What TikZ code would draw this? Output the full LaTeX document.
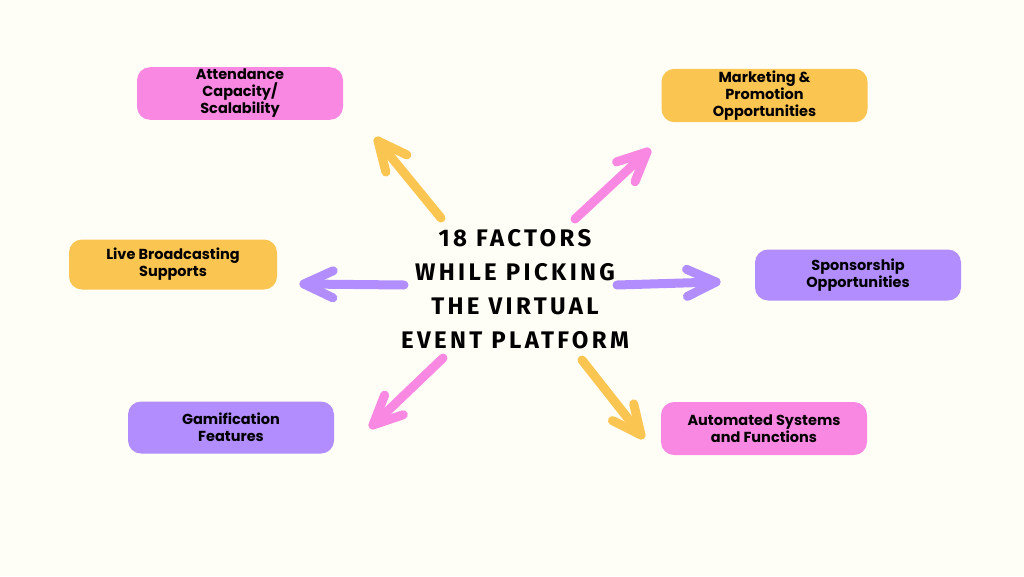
\documentclass[tikz,border=0pt]{standalone}
\usepackage{fontspec}
\setmainfont{Poppins}
\newfontfamily\titlefont[LetterSpace=14]{Fira Sans}
\newfontfamily\boxfont{Poppins}
\usetikzlibrary{calc}
\definecolor{bg}{HTML}{FFFEF6}
\definecolor{fpink}{HTML}{F888E2}
\definecolor{fyellow}{HTML}{FBC552}
\definecolor{fpurple}{HTML}{B28DFE}
\tikzset{
  factor/.style={rounded corners=13pt, minimum width=206pt, minimum height=52pt, inner sep=2pt,
    align=center, font=\boxfont\bfseries\fontsize{14.5}{17}\selectfont, text=black},
  shaft/.style={line width=9pt, line cap=round, line join=round},
}
\newcommand{\factorarrow}[3]{%
  \draw[shaft,#3] (#1) -- (#2);
  \draw[shaft,#3] ($(#2)!32pt!25:(#1)$) -- (#2) -- ($(#2)!32pt!-25:(#1)$);
}
\begin{document}
\begin{tikzpicture}[x=1pt,y=-1pt]
\fill[bg] (0,0) rectangle (1024,576);
\useasboundingbox (0,0) rectangle (1024,576);

\node[factor,fill=fpink] (att) at (240,93.5) {Attendance\\Capacity/\\Scalability};
\node[factor,fill=fyellow,minimum height=51pt] (mkt) at (764.5,95.5) {Marketing \&\\Promotion\\Opportunities};
\node[factor,fill=fyellow,minimum height=50pt,minimum width=208pt] (live) at (173,264.5) {Live Broadcasting\\Supports};
\node[factor,fill=fpurple,minimum height=51pt] (spon) at (858,275) {Sponsorship\\Opportunities};
\node[factor,fill=fpurple,minimum height=52pt] (gam) at (231,427.5) {Gamification\\Features};
\node[factor,fill=fpink,minimum height=53pt] (auto) at (764,428.5) {Automated Systems\\and Functions};

\node[align=center, font=\titlefont\bfseries\fontsize{24}{34}\selectfont, text=black] (title) at (515,289)
  {18 FACTORS\\WHILE PICKING\\THE VIRTUAL\\EVENT PLATFORM};

\coordinate (t1) at (441,218); \coordinate (h1) at (378,141);
\coordinate (t2) at (404,285); \coordinate (h2) at (304,284);
\coordinate (t3) at (443,358); \coordinate (h3) at (373,425);
\coordinate (t4) at (575,219); \coordinate (h4) at (647,152);
\coordinate (t5) at (617,285); \coordinate (h5) at (716,282);
\coordinate (t6) at (582,360); \coordinate (h6) at (641,435);

\factorarrow{t1}{h1}{fyellow}
\factorarrow{t2}{h2}{fpurple}
\factorarrow{t3}{h3}{fpink}
\factorarrow{t4}{h4}{fpink}
\factorarrow{t5}{h5}{fpurple}
\factorarrow{t6}{h6}{fyellow}
\end{tikzpicture}
\end{document}
